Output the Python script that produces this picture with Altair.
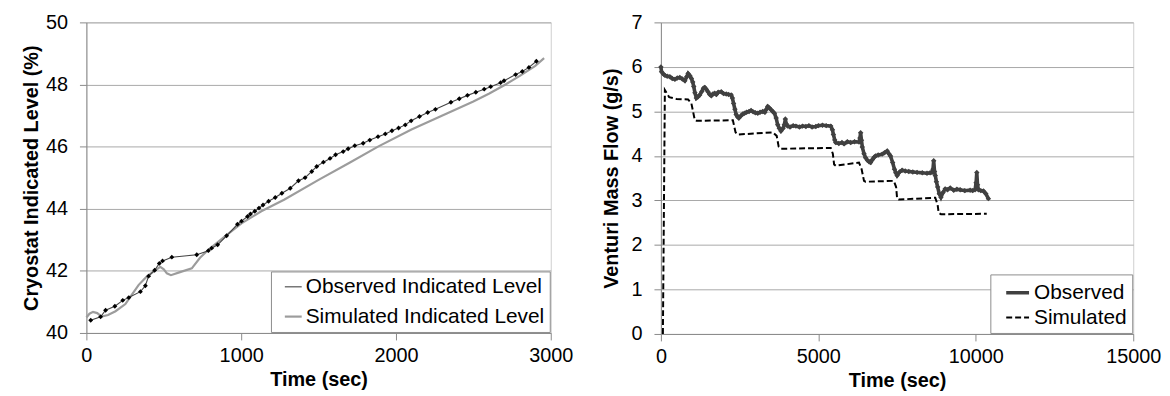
import altair as alt
import pandas as pd

# ---------------- data ----------------
left_obs_t = [28, 92, 124, 184, 235, 274, 349, 381, 402, 441, 471, 492, 552, 713, 788, 809, 848, 906,
              976, 1002, 1041, 1060, 1088, 1115, 1141, 1177, 1220, 1263, 1317, 1370, 1413, 1456, 1488,
              1531, 1574, 1610, 1659, 1691, 1734, 1788, 1831, 1884, 1931, 1974, 2017, 2060, 2098, 2152,
              2205, 2255, 2355, 2409, 2462, 2516, 2570, 2612, 2676, 2698, 2773, 2816, 2859, 2907]
left_obs_v = [40.41, 40.52, 40.73, 40.86, 41.05, 41.14, 41.33, 41.52, 41.83, 42.02, 42.24, 42.32, 42.44,
              42.52, 42.65, 42.73, 42.84, 43.13, 43.50, 43.60, 43.75, 43.83, 43.92, 44.02, 44.12, 44.24,
              44.36, 44.50, 44.66, 44.90, 45.00, 45.20, 45.36, 45.50, 45.62, 45.74, 45.84, 45.93, 46.03,
              46.11, 46.21, 46.32, 46.41, 46.51, 46.60, 46.70, 46.83, 46.97, 47.10, 47.20, 47.43, 47.54,
              47.65, 47.75, 47.85, 47.93, 48.06, 48.12, 48.32, 48.42, 48.55, 48.75]

left_sim_t = [0, 20, 43, 70, 98, 140, 188, 252, 295, 338, 391, 440, 477, 500, 520, 546, 600, 681, 734,
              788, 895, 1002, 1130, 1280, 1500, 1700, 1884, 2100, 2300, 2500, 2600, 2708, 2800, 2900, 2957]
left_sim_v = [40.50, 40.62, 40.68, 40.64, 40.53, 40.58, 40.70, 40.93, 41.24, 41.55, 41.82, 42.00, 42.13,
              42.05, 41.92, 41.86, 41.95, 42.08, 42.42, 42.68, 43.11, 43.53, 43.92, 44.30, 44.93, 45.48,
              46.00, 46.55, 47.00, 47.45, 47.70, 48.00, 48.28, 48.60, 48.85]

right_obs_t = [0, 20, 80, 126, 200, 285, 360, 443, 520, 600, 680, 760, 820, 863, 920, 968, 1010, 1043,
               1080, 1126, 1180, 1233, 1300, 1350, 1391, 1440, 1495, 1550, 1600, 1650, 1707, 1760, 1820,
               1916, 1990, 2074, 2150, 2232, 2270, 2308, 2350, 2390, 2430, 2475, 2540, 2600, 2656, 2720,
               2800, 2864, 2930, 3000, 3076, 3150, 3234, 3300, 3340, 3392, 3440, 3497, 3550, 3605, 3660,
               3709, 3760, 3813, 3880, 3920, 3952, 3980, 4025, 4100, 4200, 4287, 4400, 4500, 4604, 4700,
               4800, 4920, 5000, 5131, 5250, 5394, 5447, 5479, 5520, 5552, 5650, 5750, 5817, 5922, 6026,
               6150, 6291, 6320, 6343, 6370, 6396, 6450, 6500, 6560, 6610, 6658, 6720, 6770, 6817, 6900,
               7028, 7100, 7186, 7240, 7291, 7360, 7418, 7460, 7502, 7580, 7660, 7760, 7872, 8000, 8135,
               8300, 8451, 8550, 8609, 8640, 8663, 8690, 8714, 8750, 8789, 8840, 8893, 8960, 9030, 9100,
               9188, 9300, 9400, 9504, 9650, 9820, 9900, 9978, 10010, 10032, 10055, 10085, 10160, 10243,
               10320, 10401]
right_obs_v = [6.00, 5.89, 5.84, 5.81, 5.79, 5.78, 5.74, 5.72, 5.75, 5.76, 5.73, 5.69, 5.78, 5.85, 5.80,
               5.74, 5.66, 5.56, 5.42, 5.30, 5.33, 5.37, 5.45, 5.52, 5.54, 5.50, 5.44, 5.38, 5.35, 5.39,
               5.41, 5.38, 5.43, 5.44, 5.40, 5.39, 5.38, 5.37, 5.30, 5.18, 5.05, 4.93, 4.88, 4.85, 4.90,
               4.94, 4.96, 4.98, 5.00, 5.02, 4.99, 4.97, 4.96, 4.98, 5.00, 4.98, 5.04, 5.11, 5.08, 5.04,
               5.00, 4.96, 4.85, 4.70, 4.62, 4.56, 4.62, 4.70, 4.83, 4.72, 4.67, 4.65, 4.68, 4.67, 4.65,
               4.67, 4.66, 4.68, 4.65, 4.66, 4.68, 4.69, 4.68, 4.67, 4.59, 4.48, 4.36, 4.30, 4.28, 4.30,
               4.27, 4.32, 4.30, 4.32, 4.31, 4.40, 4.52, 4.35, 4.20, 4.05, 3.96, 3.90, 3.87, 3.85, 3.92,
               3.97, 4.00, 4.02, 4.04, 4.07, 4.11, 4.05, 4.00, 3.85, 3.70, 3.62, 3.56, 3.64, 3.68, 3.66,
               3.65, 3.64, 3.63, 3.62, 3.61, 3.62, 3.63, 3.70, 3.89, 3.65, 3.56, 3.42, 3.30, 3.15, 3.07,
               3.18, 3.26, 3.24, 3.28, 3.23, 3.25, 3.24, 3.22, 3.23, 3.22, 3.24, 3.40, 3.63, 3.35, 3.24,
               3.22, 3.21, 3.15, 3.04]

right_sim_t = [63, 126, 262, 494, 863, 968, 1075, 1130, 2286, 2370, 2444, 3550, 3677, 3740, 3813, 5394,
               5460, 5501, 5552, 6291, 6375, 6450, 6500, 7398, 7470, 7502, 7560, 8714, 8789, 8820, 8893,
               10348]
right_sim_v = [0.00, 5.48, 5.32, 5.28, 5.27, 5.18, 4.81, 4.79, 4.80, 4.53, 4.48, 4.53, 4.45, 4.21, 4.16,
               4.18, 4.05, 3.81, 3.78, 3.85, 3.70, 3.44, 3.42, 3.44, 3.30, 3.04, 3.02, 3.06, 2.90, 2.72,
               2.69, 2.70]

left_ticks_x = [0, 1000, 2000, 3000]
left_ticks_y = [40, 42, 44, 46, 48, 50]
right_ticks_x = [0, 5000, 10000, 15000]
right_ticks_y = [0, 1, 2, 3, 4, 5, 6, 7]

L_OBS, L_SIM = "Observed Indicated Level", "Simulated Indicated Level"
R_OBS, R_SIM = "Observed", "Simulated"

FONT = "Liberation Sans"

left_obs = pd.DataFrame({"t": left_obs_t, "v": left_obs_v, "series": L_OBS})
left_sim = pd.DataFrame({"t": left_sim_t, "v": left_sim_v, "series": L_SIM})
left_df = pd.concat([left_sim, left_obs], ignore_index=True)

right_obs = pd.DataFrame({"t": right_obs_t, "v": right_obs_v, "series": R_OBS})
right_sim = pd.DataFrame({"t": right_sim_t, "v": right_sim_v, "series": R_SIM})
right_df = pd.concat([right_sim, right_obs], ignore_index=True)


def legend(sym_size, sym_offset, label_offset, row_pad):
    return alt.Legend(
        title=None, orient="bottom-right", offset=1, fillColor="white",
        strokeColor="#8c8c8c", padding=5, symbolType="stroke", symbolSize=sym_size,
        symbolStrokeWidth=1.8, symbolOffset=sym_offset, labelOffset=label_offset,
        labelFontSize=21, labelFont=FONT, labelColor="#000", rowPadding=row_pad,
        labelLimit=0,
    )


# ---------------- left chart ----------------
lx = alt.X("t:Q", scale=alt.Scale(domain=[0, 3000], nice=False),
           axis=alt.Axis(values=left_ticks_x, format="d", title="Time (sec)", grid=False,
                         labelPadding=6, titlePadding=4, labelFlush=False))
ly = alt.Y("v:Q", scale=alt.Scale(domain=[40, 50], nice=False, zero=False),
           axis=alt.Axis(values=left_ticks_y, title="Cryostat Indicated Level (%)",
                         labelPadding=12, titlePadding=4, labelFlush=False))

left_lines = alt.Chart(left_df).mark_line().encode(
    x=lx, y=ly,
    color=alt.Color("series:N", scale=alt.Scale(domain=[L_OBS, L_SIM], range=["#444444", "#9c9c9c"]),
                    legend=legend(289, 7, 2, 8)),
    strokeWidth=alt.StrokeWidth("series:N", scale=alt.Scale(domain=[L_OBS, L_SIM], range=[1.1, 2.2]),
                                legend=None),
    order=alt.Order("t:Q"),
)
left_pts = alt.Chart(left_obs).mark_point(shape="diamond", filled=True, size=24, color="#000000",
                                          opacity=1).encode(x=lx, y=ly)
left = alt.layer(left_lines, left_pts).properties(width=468, height=313)

# ---------------- right chart ----------------
rx = alt.X("t:Q", scale=alt.Scale(domain=[0, 15000], nice=False),
           axis=alt.Axis(values=right_ticks_x, format="d", title="Time (sec)", grid=False,
                         labelPadding=6, titlePadding=4, labelFlush=False))
ry = alt.Y("v:Q", scale=alt.Scale(domain=[0, 7], nice=False),
           axis=alt.Axis(values=right_ticks_y, title="Venturi Mass Flow (g/s)",
                         labelPadding=12, titlePadding=10, labelFlush=False))

r_leg = legend(529, 9, 3, 2)
right_lines = alt.Chart(right_df).mark_line().encode(
    x=rx, y=ry,
    color=alt.Color("series:N", scale=alt.Scale(domain=[R_OBS, R_SIM], range=["#404040", "#000000"]),
                    legend=r_leg),
    strokeDash=alt.StrokeDash("series:N", scale=alt.Scale(domain=[R_OBS, R_SIM], range=[[1, 0], [6, 3]]),
                              legend=r_leg),
    strokeWidth=alt.StrokeWidth("series:N", scale=alt.Scale(domain=[R_OBS, R_SIM], range=[3.6, 2.0]),
                                legend=None),
    order=alt.Order("t:Q"),
)
right_pts = alt.Chart(right_obs).mark_point(shape="diamond", filled=True, size=30, color="#404040",
                                            opacity=1).encode(x=rx, y=ry)
right = alt.layer(right_lines, right_pts).properties(width=476, height=314)

chart = alt.hconcat(left, right, spacing=27).resolve_scale(
    color="independent", strokeDash="independent", strokeWidth="independent"
).properties(
    padding={"left": 13, "top": 2, "right": 0, "bottom": 0}
).configure_axis(
    labelFont=FONT, titleFont=FONT, labelFontSize=20, titleFontSize=20, titleFontWeight="bold",
    labelColor="#000000", titleColor="#000000", domainColor="#8a8a8a", tickColor="#8a8a8a",
    tickSize=7, gridColor="#a8a8a8", gridWidth=1,
).configure_view(stroke="#cfcfcf", strokeWidth=1)

chart.save("out.html", embed_options={"renderer": "svg", "actions": False})
